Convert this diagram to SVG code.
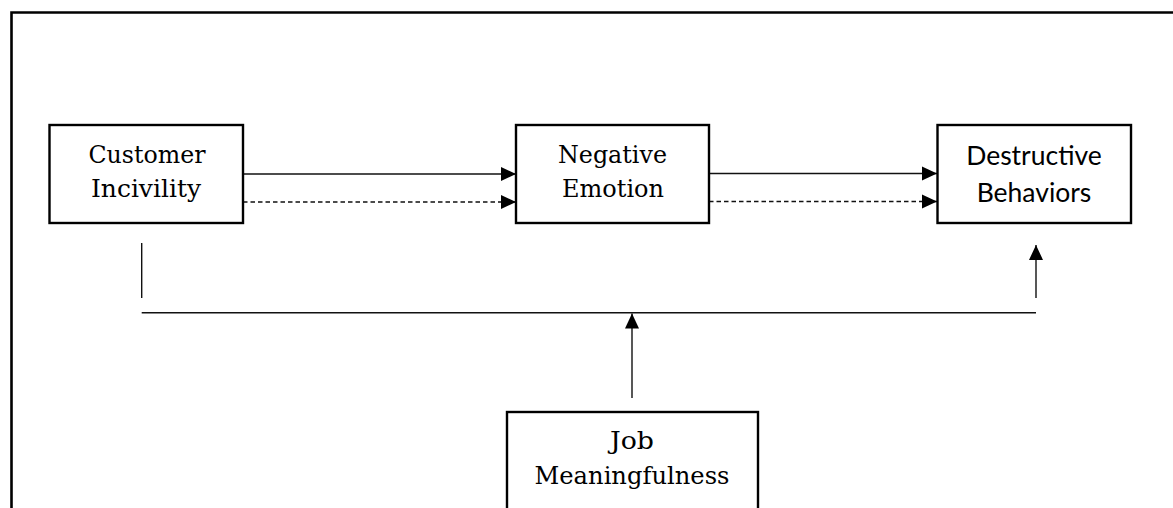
<svg xmlns="http://www.w3.org/2000/svg" width="1173" height="508" viewBox="0 0 1173 508">
<style>
.box{fill:#fff;stroke:#000;stroke-width:2.4}
.frame{fill:none;stroke:#000;stroke-width:2.6}
.ln{fill:none;stroke:#111;stroke-width:1.4}
.dash{stroke-dasharray:4.5 3}
.serif{font-family:"DejaVu Serif","Liberation Serif",serif;font-size:25px;fill:#000;text-anchor:middle}
.sans{font-family:Lato,"Open Sans","Liberation Sans",sans-serif;font-size:26.5px;fill:#000;text-anchor:middle}
</style>
<defs>
<marker id="ah" markerUnits="userSpaceOnUse" markerWidth="16" markerHeight="16" viewBox="0 0 16 16" refX="15" refY="8" orient="auto">
<path d="M0,1 L15,8 L0,15 Z" fill="#000"/>
</marker>
</defs>
<rect width="1173" height="508" fill="#fff"/>
<path class="frame" d="M11.5,520 V12.5 H1180"/>
<g id="connectors">
<line class="ln" x1="243" y1="174" x2="516" y2="174" marker-end="url(#ah)"/>
<line class="ln dash" x1="243" y1="202" x2="516" y2="202" marker-end="url(#ah)"/>
<line class="ln" x1="709" y1="173.5" x2="937" y2="173.5" marker-end="url(#ah)"/>
<line class="ln dash" x1="709" y1="201.5" x2="937" y2="201.5" marker-end="url(#ah)"/>
<line class="ln" x1="141.7" y1="243" x2="141.7" y2="298"/>
<line class="ln" x1="141.7" y1="312.7" x2="1036" y2="312.7"/>
<line class="ln" x1="1036" y1="298" x2="1036" y2="245" marker-end="url(#ah)"/>
<line class="ln" x1="632" y1="398" x2="632" y2="313.5" marker-end="url(#ah)"/>
</g>
<g id="customer-incivility">
<rect class="box" x="49.5" y="125" width="193.5" height="98"/>
<text class="serif" x="147" y="163" textLength="117" lengthAdjust="spacingAndGlyphs">Customer</text>
<text class="serif" x="146" y="197" textLength="110" lengthAdjust="spacingAndGlyphs">Incivility</text>
</g>
<g id="negative-emotion">
<rect class="box" x="516" y="125" width="193" height="98"/>
<text class="serif" x="612.5" y="163" textLength="109" lengthAdjust="spacingAndGlyphs">Negative</text>
<text class="serif" x="613" y="197" textLength="102" lengthAdjust="spacingAndGlyphs">Emotion</text>
</g>
<g id="destructive-behaviors">
<rect class="box" x="937.5" y="125" width="193.5" height="98"/>
<text class="sans" x="1034" y="165">Destructive</text>
<text class="sans" x="1034" y="202">Behaviors</text>
</g>
<g id="job-meaningfulness">
<rect class="box" x="507" y="412" width="251" height="120"/>
<text class="serif" x="632" y="449" textLength="44" lengthAdjust="spacingAndGlyphs">Job</text>
<text class="serif" x="632" y="484" textLength="195" lengthAdjust="spacingAndGlyphs">Meaningfulness</text>
</g>
</svg>
